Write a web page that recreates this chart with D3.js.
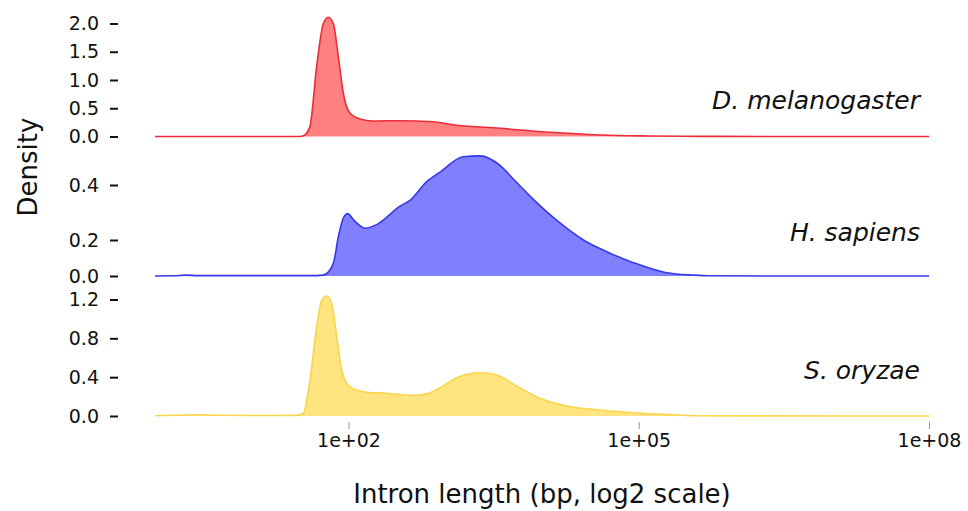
<!DOCTYPE html>
<html>
<head>
<meta charset="utf-8">
<script src="https://cdn.jsdelivr.net/npm/d3@7"></script>
<style>
  html, body { margin: 0; padding: 0; background: #fff; }
  svg { display: block; font-family: "DejaVu Sans", sans-serif; }
</style>
</head>
<body>
<svg id="chart" width="968" height="511"></svg>
<script>
// ---------- data (x = log10 of intron length in bp, y = density) ----------
const speciesNames = ["D. melanogaster", "H. sapiens", "S. oryzae"];

const dmelLog = [0, 1.0, 1.46, 1.53, 1.60, 1.671, 1.74, 1.79, 1.843, 1.895, 1.946, 2.016, 2.119, 2.253, 2.532, 2.873, 3.121, 3.566, 4.083, 4.60, 5.116, 5.63, 6.5, 8];
const dmelDen = [0, 0, 0, 0.01, 0.17, 1.24, 2.0, 2.11, 2.0, 1.41, 0.77, 0.41, 0.31, 0.275, 0.28, 0.26, 0.20, 0.145, 0.074, 0.027, 0.01, 0.003, 0, 0];

const hsapLog = [0, 0.2, 0.31, 0.45, 1.0, 1.6, 1.74, 1.843, 1.895, 1.946, 1.992, 2.05, 2.171, 2.291, 2.532, 2.636, 2.808, 2.946, 3.187, 3.359, 3.566, 3.703, 3.91, 4.186, 4.427, 4.669, 4.944, 5.289, 5.564, 5.74, 6.5, 8];
const hsapDen = [0, 0.001, 0.005, 0.002, 0.002, 0.002, 0.005, 0.07, 0.212, 0.28, 0.296, 0.274, 0.243, 0.256, 0.323, 0.344, 0.412, 0.447, 0.503, 0.506, 0.471, 0.422, 0.348, 0.262, 0.2, 0.135, 0.074, 0.018, 0.005, 0.001, 0, 0];

const soryLog = [0, 0.25, 0.431, 0.65, 1.0, 1.465, 1.533, 1.602, 1.671, 1.723, 1.775, 1.826, 1.878, 1.93, 2.016, 2.188, 2.395, 2.67, 2.808, 2.946, 3.118, 3.359, 3.532, 3.738, 3.979, 4.255, 4.6, 4.944, 5.289, 5.599, 6.15, 8];
const soryDen = [0.003, 0.008, 0.013, 0.008, 0.005, 0.006, 0.028, 0.37, 0.92, 1.19, 1.236, 1.16, 0.82, 0.47, 0.30, 0.245, 0.235, 0.212, 0.228, 0.29, 0.395, 0.446, 0.422, 0.309, 0.182, 0.103, 0.062, 0.034, 0.014, 0.003, 0.001, 0];

const dmelTicks = [0, 0.5, 1.0, 1.5, 2.0];
const hsapTicks = [0, 0.2, 0.4];
const soryTicks = [0, 0.4, 0.8, 1.2];

const xTickValues = [1e2, 1e5, 1e8];
const xTickLabels = ["1e+02", "1e+05", "1e+08"];

const xTitle = "Intron length (bp, log2 scale)";
const yTitle = "Density";

// ---------- drawing ----------
const svg = d3.select("#chart");

const x = d3.scaleLog().domain([1, 1e8]).range([155, 929]);

const panels = [
  { name: speciesNames[0], xs: dmelLog, ys: dmelDen, ticks: dmelTicks, fmt: d3.format(".1f"),
    y: d3.scaleLinear().domain([0, 2]).range([136.5, 23.5]),
    fill: "rgb(255,128,128)", stroke: "rgb(235,45,55)", labelY: 100 },
  { name: speciesNames[1], xs: hsapLog, ys: hsapDen, ticks: hsapTicks, fmt: d3.format(".1f"),
    y: d3.scaleLinear().domain([0, 0.2, 0.4]).range([276, 240, 185]),
    fill: "rgb(128,128,255)", stroke: "rgb(55,55,235)", labelY: 232 },
  { name: speciesNames[2], xs: soryLog, ys: soryDen, ticks: soryTicks, fmt: d3.format(".1f"),
    y: d3.scaleLinear().domain([0, 1.2]).range([416, 299.5]),
    fill: "rgb(255,228,128)", stroke: "rgb(250,212,75)", labelY: 370 }
];

panels.forEach(p => {
  const pts = p.xs.map((l, i) => [Math.pow(10, l), p.ys[i]]);
  const g = svg.append("g");

  const area = d3.area()
    .x(d => x(d[0]))
    .y0(p.y(0))
    .y1(d => p.y(d[1]))
    .curve(d3.curveMonotoneX);
  const line = d3.line()
    .x(d => x(d[0]))
    .y(d => p.y(d[1]))
    .curve(d3.curveMonotoneX);

  g.append("path").datum(pts).attr("d", area).attr("fill", p.fill);
  g.append("path").datum(pts).attr("d", line)
    .attr("fill", "none").attr("stroke", p.stroke).attr("stroke-width", 1.6);

  const ax = svg.append("g")
    .attr("transform", "translate(118,0)")
    .call(d3.axisLeft(p.y).tickValues(p.ticks).tickFormat(p.fmt).tickSize(8).tickPadding(11));
  ax.select(".domain").remove();
  ax.selectAll(".tick line").attr("stroke", "#111").attr("stroke-width", 2);
  ax.selectAll(".tick text").attr("fill", "#111").style("font-size", "19px")
    .style("font-family", "DejaVu Sans, sans-serif");

  svg.append("text")
    .attr("x", 920).attr("y", p.labelY)
    .attr("dy", "0.35em")
    .attr("text-anchor", "end")
    .style("font-size", "25px").style("font-style", "italic")
    .attr("fill", "#111")
    .text(p.name);
});

// x axis
const xa = svg.append("g")
  .attr("transform", "translate(0,422)")
  .call(d3.axisBottom(x).tickValues(xTickValues)
    .tickFormat((d, i) => xTickLabels[i]).tickSize(7).tickPadding(5));
xa.select(".domain").remove();
xa.selectAll(".tick line").attr("stroke", "#999").attr("stroke-width", 1);
xa.selectAll(".tick text").attr("fill", "#111").style("font-size", "19px")
  .style("font-family", "DejaVu Sans, sans-serif");

// titles
svg.append("text")
  .attr("x", 542).attr("y", 503)
  .attr("text-anchor", "middle")
  .style("font-size", "26px").attr("fill", "#111")
  .text(xTitle);

svg.append("text")
  .attr("transform", "translate(37,167) rotate(-90)")
  .attr("text-anchor", "middle")
  .style("font-size", "26px").attr("fill", "#111")
  .text(yTitle);
</script>
</body>
</html>
